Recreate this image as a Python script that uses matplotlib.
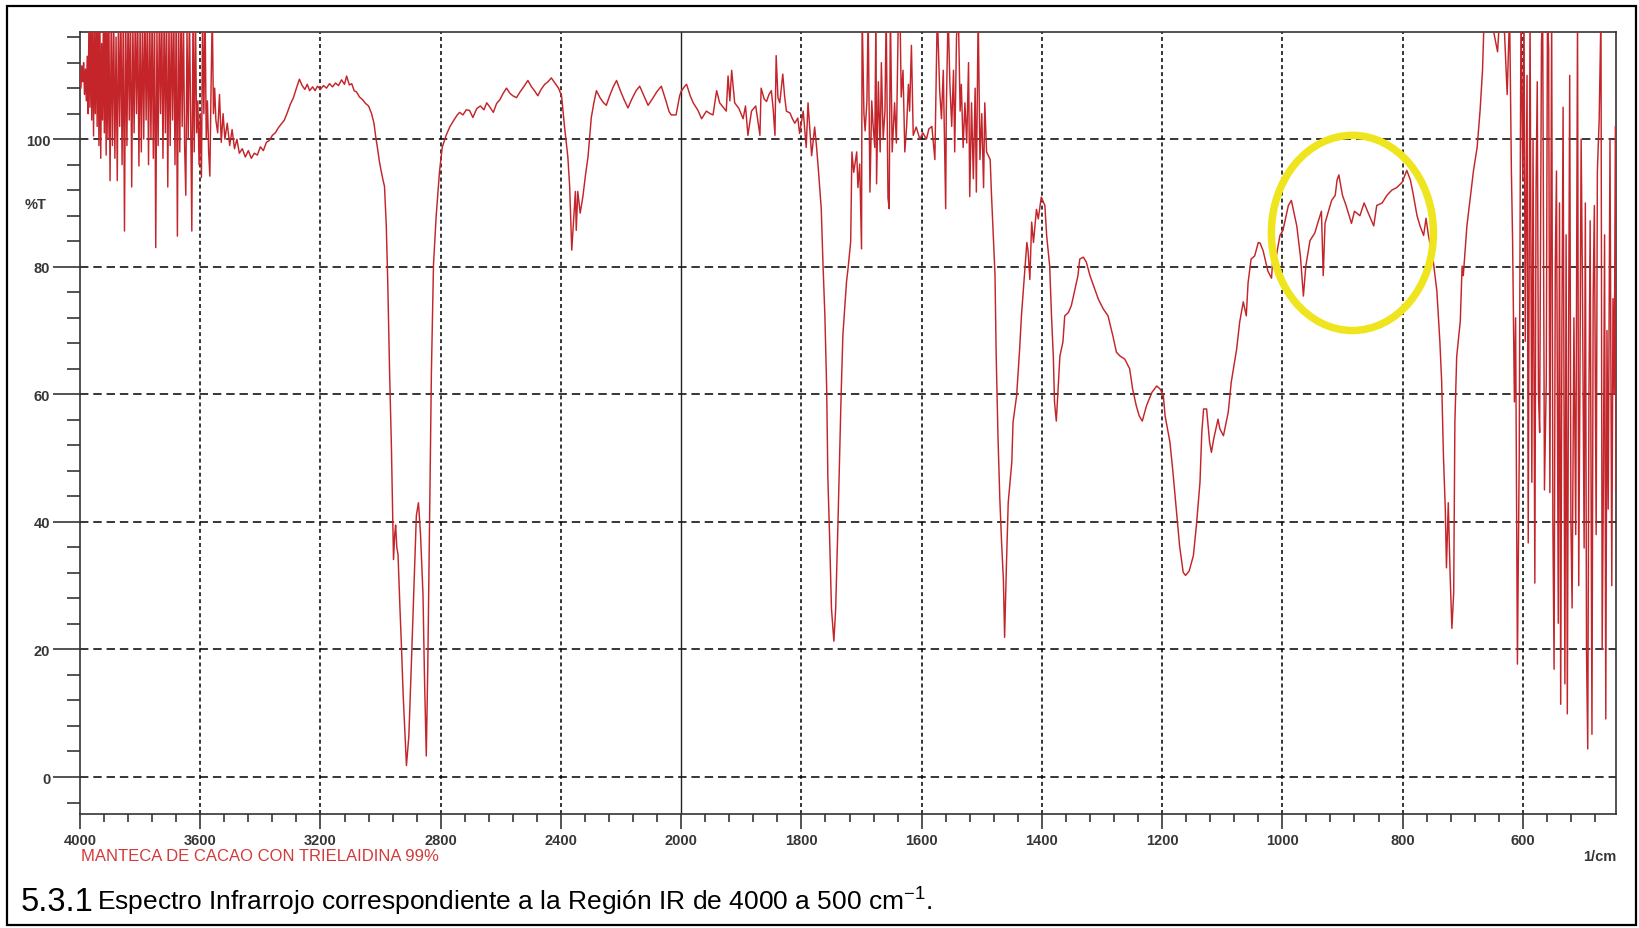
import matplotlib
matplotlib.use('Agg')
import matplotlib.pyplot as plt
import numpy as np
from matplotlib.patches import Ellipse, Rectangle

plt.rcParams['font.family'] = ['Liberation Sans', 'DejaVu Sans']
plt.rcParams['mathtext.fontset'] = 'custom'
plt.rcParams['mathtext.rm'] = 'Liberation Sans'
plt.rcParams['mathtext.default'] = 'regular'

# (wavenumber 1/cm, %T)
# 4000-3550: noisy water-vapour band
spec_noise = [
    (4000, 110.5), (3997, 108), (3994, 111.5), (3991, 109), (3988, 112), (3985, 107),
    (3982, 111), (3979, 106), (3976, 113), (3973, 104), (3970, 120), (3967, 105),
    (3964, 118), (3961, 103), (3958, 120), (3955, 100.5), (3952, 117), (3949, 104),
    (3946, 120), (3943, 102), (3940, 120), (3937, 99), (3934, 120), (3931, 97),
    (3928, 115), (3925, 103), (3922, 120), (3919, 101), (3916, 120), (3913, 97.5),
    (3910, 120), (3907, 100), (3904, 120), (3900, 93.5), (3896, 120), (3892, 99),
    (3888, 120), (3884, 97), (3880, 116), (3876, 93.5), (3872, 120), (3868, 102),
    (3864, 120), (3860, 96), (3856, 120), (3852, 85.6), (3848, 120), (3844, 99),
    (3840, 120), (3836, 103), (3832, 120), (3828, 92.5), (3824, 118), (3820, 101),
    (3816, 120), (3812, 104), (3808, 120), (3804, 95.8), (3800, 118), (3796, 98),
    (3792, 120), (3788, 100), (3784, 120), (3780, 103), (3776, 120), (3772, 96),
    (3768, 120), (3764, 100), (3760, 120), (3756, 97), (3752, 120), (3748, 83),
    (3744, 117), (3740, 99), (3736, 120), (3732, 104), (3728, 120), (3724, 97),
    (3720, 120), (3716, 101), (3712, 120), (3708, 92.5), (3704, 118), (3700, 99),
    (3696, 120), (3692, 103), (3688, 120), (3684, 96), (3680, 120), (3676, 84.8),
    (3672, 120), (3668, 98), (3664, 120), (3660, 102), (3656, 120), (3652, 99),
    (3648, 91.2), (3644, 117), (3640, 100), (3636, 120), (3632, 104), (3628, 85.6),
    (3624, 120), (3620, 98), (3616, 120), (3612, 101), (3608, 106), (3604, 96),
    (3600, 104), (3596, 94), (3592, 120), (3588, 104), (3584, 120), (3580, 100),
    (3576, 106), (3572, 98), (3568, 94.2), (3564, 108), (3560, 120), (3556, 104),
    (3552, 108),
]

# 3550-2000
spec_mid = [
    (3548, 103), (3542, 101), (3536, 107), (3530, 99.5), (3524, 104), (3518, 100),
    (3510, 102.5), (3502, 99), (3494, 101.5), (3486, 98.5), (3478, 100), (3470, 97.8),
    (3460, 98.5), (3450, 97.2), (3440, 98.2), (3430, 97), (3420, 97.8), (3410, 97.5),
    (3400, 98.8), (3390, 98.2), (3380, 99.5), (3370, 99.8), (3360, 100.6), (3350, 101),
    (3340, 101.8), (3330, 102.4), (3320, 103), (3310, 104.2), (3300, 105.5), (3290, 106.5),
    (3280, 108), (3270, 109.4), (3262, 108.5), (3252, 107.8), (3244, 108.6), (3236, 107.6),
    (3226, 108.2), (3218, 107.6), (3210, 108.3), (3200, 107.8), (3190, 108.4), (3180, 108),
    (3170, 108.7), (3160, 108.2), (3150, 108.8), (3140, 108.4), (3130, 109.3), (3120, 108.6),
    (3113, 109.9), (3104, 108.5), (3096, 108.7), (3088, 107.6), (3080, 107.4), (3070, 106.6),
    (3060, 106.2), (3050, 105.6), (3040, 105.2), (3030, 104), (3022, 102.5), (3016, 100.3),
    (3010, 98.5), (3004, 96.5), (2998, 95), (2992, 93.6), (2987, 92.6), (2981, 86.4),
    (2976, 77.2), (2970, 63.4), (2964, 51.8), (2959, 39.5), (2957, 34.1), (2953, 38),
    (2950, 39.5), (2946, 36), (2942, 34.9), (2936, 27), (2931, 21), (2925, 13),
    (2920, 8), (2914, 1.8), (2906, 6.4), (2898, 17.2), (2887, 32.6), (2881, 41),
    (2874, 43), (2867, 37.9), (2859, 28.7), (2854, 15.7), (2848, 3.3), (2843, 17.2),
    (2837, 40.3), (2831, 63.3), (2824, 80.3), (2815, 88), (2804, 94.9), (2795, 98.7),
    (2782, 100.6), (2770, 101.9), (2756, 103), (2745, 103.8), (2737, 104.2), (2726, 103.8),
    (2715, 104.6), (2704, 104.5), (2693, 103.4), (2680, 104.8), (2668, 105.2), (2656, 104.6),
    (2647, 105.7), (2636, 105), (2625, 104.2), (2614, 105.6), (2603, 106.2), (2592, 107.2),
    (2581, 108), (2570, 107.2), (2560, 106.8), (2548, 106.5), (2536, 107.4), (2524, 108.2),
    (2510, 109.2), (2498, 108.2), (2488, 107.6), (2477, 106.8), (2466, 107.8), (2454, 108.6),
    (2443, 109), (2432, 109.6), (2420, 108.8), (2408, 108), (2398, 106.8), (2388, 101.9),
    (2377, 97.2), (2371, 92.6), (2364, 82.6), (2359, 86.4), (2352, 91.8), (2349, 85.7),
    (2344, 91.8), (2336, 88.4), (2327, 91), (2318, 94.5), (2310, 97.2), (2299, 103.4),
    (2290, 105.8), (2282, 107.6), (2270, 106.5), (2260, 105.8), (2249, 105.3), (2238, 106.8),
    (2226, 108.2), (2215, 109.2), (2204, 107.8), (2190, 106.2), (2177, 104.9), (2165, 106.2),
    (2150, 107.6), (2138, 108.3), (2124, 106.8), (2110, 105.3), (2096, 106.3), (2080, 107.5),
    (2066, 108.3), (2052, 106.2), (2040, 104.3), (2033, 103.8), (2017, 103.8), (2010, 105.5),
    (2005, 106.8), (2000, 107.5),
]

# 2000-1000: carbonyl, CH2 bend and C-O bands
spec_finger = [
    (1994, 108.3), (1991, 108.6), (1985, 106.8), (1980, 105.7), (1972, 104.5), (1966, 103.2),
    (1958, 104.4), (1952, 104), (1947, 103.8), (1941, 107.6), (1936, 105.7), (1930, 105),
    (1925, 104.4), (1922, 109.9), (1919, 106), (1916, 110.8), (1911, 105.7), (1904, 104.8),
    (1897, 103.2), (1893, 105.2), (1889, 100.6), (1883, 104.4), (1876, 105.2), (1869, 100.6),
    (1867, 108), (1862, 106.3), (1858, 105.9), (1854, 107), (1850, 107.6), (1847, 104.8),
    (1844, 100.6), (1842, 113.1), (1839, 106.5), (1836, 105.7), (1831, 110.2), (1828, 106.8),
    (1825, 104.4), (1819, 104.1), (1815, 103.2), (1811, 102.5), (1806, 103.3), (1803, 100.9),
    (1797, 104.4), (1792, 98.7), (1789, 105.7), (1786, 101.5), (1783, 97.4), (1778, 101.9),
    (1775, 99), (1772, 95.5), (1767, 89.1), (1764, 80.1), (1761, 72.5), (1758, 61),
    (1756, 46.9), (1753, 37.3), (1750, 26.4), (1746, 21.3), (1743, 26.4), (1739, 40.5),
    (1734, 59.7), (1731, 69.3), (1725, 77.6), (1722, 80.1), (1718, 84), (1717, 91.7),
    (1716, 98), (1713, 94.8), (1708, 98), (1706, 92.4), (1703, 96.1), (1700, 82.8),
    (1699, 120), (1696, 104), (1694, 101.3), (1691, 106), (1689, 120), (1686, 91.7),
    (1683, 106), (1681, 102.5), (1678, 98.7), (1676, 120), (1675, 93), (1672, 109),
    (1669, 98), (1667, 112), (1664, 100), (1661, 104.4), (1659, 120), (1656, 90.8),
    (1654, 89.1), (1652, 120), (1649, 98), (1645, 105.7), (1642, 99.4), (1639, 118),
    (1636, 120), (1634, 106.6), (1631, 110.8), (1628, 98), (1625, 102), (1622, 108.6),
    (1620, 104.4), (1617, 114.7), (1614, 100.6), (1609, 101.9), (1603, 100), (1598, 101),
    (1592, 100), (1588, 101.6), (1583, 102), (1578, 96.8), (1574, 120), (1570, 107.6),
    (1567, 103.2), (1564, 110.8), (1560, 89.1), (1559, 104.4), (1556, 120), (1553, 108.6),
    (1550, 102), (1547, 110.8), (1545, 98), (1542, 116), (1539, 120), (1536, 104.4),
    (1534, 108.6), (1531, 98.7), (1528, 105.7), (1525, 99.4), (1522, 112), (1520, 91),
    (1517, 105.7), (1514, 93.8), (1511, 108), (1509, 91.7), (1506, 120), (1503, 96.8),
    (1500, 104), (1497, 92.4), (1495, 105.7), (1492, 98), (1486, 96.8), (1484, 91.7),
    (1478, 78.8), (1476, 66.1), (1473, 53.3), (1470, 43.7), (1467, 36.7), (1464, 30.9),
    (1462, 21.9), (1459, 33.1), (1456, 43), (1450, 49.4), (1448, 55.6), (1442, 59.8),
    (1437, 67.1), (1434, 72.3), (1428, 80.1), (1425, 83.8), (1423, 82.5), (1420, 78),
    (1417, 87), (1414, 83.8), (1409, 89), (1406, 87.5), (1401, 90.9), (1395, 89.6),
    (1392, 84.8), (1387, 80.1), (1384, 72.3), (1381, 66), (1379, 58.8), (1376, 55.8),
    (1373, 60.8), (1370, 66), (1365, 68.2), (1362, 72.3), (1356, 72.8), (1351, 73.9),
    (1345, 76.5), (1340, 78.6), (1337, 81.2), (1331, 81.5), (1326, 80.7), (1320, 78.6),
    (1312, 76.5), (1306, 74.9), (1298, 73.4), (1290, 72.3), (1282, 69.2), (1276, 66.6),
    (1270, 66), (1262, 65.5), (1254, 64), (1249, 60.8), (1243, 58.2), (1238, 56.6),
    (1233, 55.8), (1226, 58.2), (1217, 60.3), (1209, 61.3), (1203, 60.8), (1198, 59.8),
    (1195, 56.6), (1187, 52.5), (1182, 47.8), (1176, 41.5), (1171, 36.3), (1165, 32.1),
    (1161, 31.6), (1155, 32.3), (1148, 34.7), (1143, 39.4), (1137, 46.2), (1134, 54),
    (1131, 57.7), (1126, 57.7), (1121, 52.5), (1118, 50.9), (1114, 53.1), (1107, 56.1),
    (1104, 54.6), (1098, 53.5), (1090, 57.2), (1085, 61.9), (1076, 67.1), (1071, 71.3),
    (1065, 74.5), (1060, 72.3), (1057, 77.5), (1052, 81.2), (1046, 81.7), (1040, 83.8),
    (1037, 83.7), (1032, 82.5), (1024, 79.3), (1018, 78.2), (1015, 82.5), (1010, 81.7),
    (1004, 84.9),
]

# 1000-445: trans C=CH band, CH2 rock and the noisy far end
spec_tail = [
    (999, 85.7), (990, 89.6), (985, 90.4), (976, 86.4), (970, 81.7), (965, 75.4),
    (961, 80.1), (954, 84.1), (946, 85.3), (940, 87.2), (935, 88.7), (932, 78.6),
    (929, 86.8), (923, 88.8), (918, 90.4), (912, 91.2), (909, 93.6), (906, 94.4),
    (900, 91.2), (894, 89.6), (885, 86.8), (880, 88.7), (871, 88), (864, 90),
    (857, 88.4), (848, 86.4), (843, 89.6), (834, 90), (826, 91.2), (818, 92),
    (810, 92.4), (801, 93.2), (793, 95.1), (787, 93.6), (782, 91.2), (776, 88),
    (771, 86.4), (765, 84.9), (761, 87.6), (757, 84.9), (749, 80.9), (743, 76.2),
    (738, 68.3), (735, 62), (732, 50.2), (729, 42.2), (727, 32.8), (724, 43),
    (721, 32), (718, 23.3), (715, 28.8), (713, 55.6), (710, 65.9), (704, 71.5),
    (701, 80.1), (699, 78.6), (693, 86.4), (687, 91.2), (682, 95.1), (676, 98.7),
    (671, 104.6), (667, 110.9), (664, 120), (655, 120), (642, 113.7), (638, 120),
    (632, 120), (626, 107), (622, 120), (619, 95), (617, 84.1), (614, 58.8),
    (612, 72), (609, 17.7), (606, 50), (604, 100), (603, 120), (600, 93.6),
    (598, 120), (596, 68.3), (593, 110), (591, 36.7), (588, 120), (585, 46.2),
    (583, 100), (580, 30.4), (578, 92), (576, 109), (574, 60), (572, 54),
    (569, 115), (567, 120), (564, 45), (561, 62), (559, 120), (557, 114),
    (555, 44.6), (552, 120), (550, 40), (548, 16.9), (546, 80), (544, 95),
    (541, 24.1), (539, 90), (537, 11.4), (535, 70), (533, 105), (530, 14.6),
    (528, 85), (526, 9.9), (524, 65), (522, 110), (520, 40), (518, 26.5),
    (515, 72), (512, 38), (509, 120), (507, 30), (505, 62), (503, 100),
    (501, 79.3), (498, 35.9), (496, 90), (494, 19.3), (492, 4.4), (490, 60),
    (488, 87.2), (485, 6.7), (483, 75), (481, 89.6), (478, 38), (476, 95),
    (473, 103), (470, 120), (468, 20), (466, 46.2), (464, 85), (462, 9.1),
    (460, 70), (458, 42), (455, 100), (452, 30), (450, 75), (448, 60),
    (446, 102), (445, 45),
]

x_major = [4000, 3600, 3200, 2800, 2400, 2000, 1800, 1600, 1400, 1200, 1000, 800, 600]
y_major = [0, 20, 40, 60, 80, 100]

sample = 'MANTECA DE CACAO CON TRIELAIDINA 99%'
caption_num = '5.3.1'
caption = 'Espectro Infrarrojo correspondiente a la Región IR de 4000 a 500 cm$^{-1}$.'


# above 2000 1/cm the axis runs at half the scale
def fwd(w):
    w = np.asarray(w, dtype=float)
    return np.where(w > 2000, 2000 + (w - 2000) / 2.0, w)


def inv(u):
    u = np.asarray(u, dtype=float)
    return np.where(u > 2000, 2000 + (u - 2000) * 2.0, u)


W, H = 1639, 929
fig = plt.figure(figsize=(W / 100, H / 100), dpi=100)
ax = fig.add_axes([80 / W, (H - 815) / H, 1536 / W, 782 / H])
ax.set_xscale('function', functions=(fwd, inv))

wn, tr = zip(*(spec_noise + spec_mid + spec_finger + spec_tail))
ax.plot(wn, tr, color='#c4252a', lw=1.05, zorder=3)

ax.set_xlim(4000, 445)
ax.set_ylim(-5.8, 116.8)

x_minor = list(range(3920, 2000, -80)) + list(range(1960, 445, -40))
ax.set_xticks(x_major)
ax.set_xticklabels([str(v) for v in x_major])
ax.set_xticks(x_minor, minor=True)
ax.set_yticks(y_major)
ax.set_yticklabels([str(v) for v in y_major])
ax.set_yticks(list(range(-4, 117, 4)), minor=True)

tick_col = '#363636'
ax.tick_params(axis='y', which='major', direction='out', length=19.5, width=1.2,
               pad=2, labelsize=10.5, colors=tick_col)
ax.tick_params(axis='y', which='minor', direction='out', length=9.5, width=1.2, colors=tick_col)
ax.tick_params(axis='x', which='major', direction='out', length=10.8, width=1.2,
               pad=3, labelsize=10.5, colors=tick_col)
ax.tick_params(axis='x', which='minor', direction='out', length=6, width=1.2, colors=tick_col)
for lab in ax.get_xticklabels() + ax.get_yticklabels():
    lab.set_fontweight('bold')

for sp in ax.spines.values():
    sp.set_color('#333333')
    sp.set_linewidth(1.2)

# dashed grid; the 2000 line is solid where the scale changes
for v in y_major:
    ax.axhline(v, color='black', lw=1.1, ls=(0, (5.5, 3.2)), zorder=1)
for v in x_major[1:]:
    if v == 2000:
        ax.axvline(v, color='#222222', lw=1.0, zorder=1)
    else:
        ax.axvline(v, color='black', lw=1.1, ls=(0, (2.6, 2.0)), zorder=1)

ax.add_patch(Ellipse((883.5, 85.3), width=269.6, height=30.6, fill=False,
                     ec='#efe51f', lw=5.4, zorder=4))

fig.text(36 / W, 1 - 205 / H, '%T', ha='center', va='center', fontsize=10.5,
         fontweight='bold', color=tick_col)
fig.text(1616 / W, 1 - 857 / H, '1/cm', ha='right', va='center', fontsize=10.5,
         fontweight='bold', color=tick_col)
fig.text(81 / W, 1 - 857 / H, sample, ha='left', va='center', fontsize=12,
         color='#d23b3b')

fig.text(21 / W, 1 - 911 / H, caption_num, ha='left', va='baseline', fontsize=23.5)
fig.text(97 / W, 1 - 911 / H, caption, ha='left', va='baseline', fontsize=19)

fig.patches.append(Rectangle((7 / W, 3 / H), 1629 / W, 919 / H, fill=False,
                             ec='black', lw=1.6, transform=fig.transFigure))

fig.savefig('out.png', dpi=100)
